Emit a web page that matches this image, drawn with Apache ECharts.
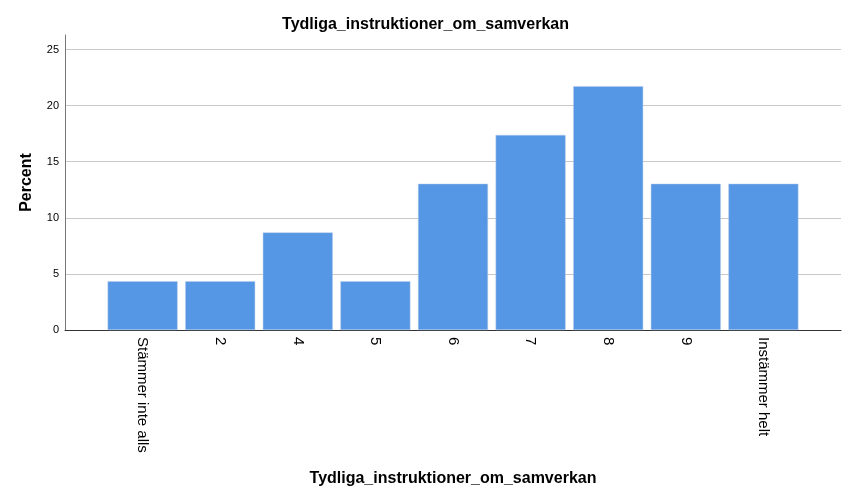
<!DOCTYPE html>
<html><head><meta charset="utf-8">
<script src="https://cdn.jsdelivr.net/npm/echarts@6/dist/echarts.min.js"></script>
<style>html,body{margin:0;padding:0;background:#fff}#c{width:851px;height:501px}</style>
</head><body><div id="c"></div>
<script>
var categories = ['Stämmer inte alls','2','4','5','6','7','8','9','Instämmer helt'];
var percentValues = [4.35, 4.35, 8.70, 4.35, 13.04, 17.39, 21.74, 13.04, 13.04];
var yTicks = [0, 5, 10, 15, 20, 25];
var titleText = 'Tydliga_instruktioner_om_samverkan';
var yName = 'Percent';

var chart = echarts.init(document.getElementById('c'), null, {renderer:'canvas'});
var font = 'Arial, "Liberation Sans", sans-serif';
chart.setOption({
  animation:false,
  title:{text:titleText,left:'center',top:12,textStyle:{fontFamily:font,fontSize:16,fontWeight:'bold',color:'#000'}},
  grid:{left:65,right:10,top:35,bottom:171,containLabel:false},
  xAxis:{type:'value',min:-1,max:categories.length,interval:1,
    name:titleText,nameLocation:'middle',nameGap:141,
    nameTextStyle:{fontFamily:font,fontSize:16,fontWeight:'bold',color:'#000'},
    axisLine:{show:true,onZero:false,lineStyle:{color:'#333',width:1}},
    axisTick:{show:false},splitLine:{show:false},
    axisLabel:{rotate:-90,margin:7,fontFamily:font,fontSize:15,color:'#000',
      showMinLabel:true,showMaxLabel:true,
      formatter:function(v){var i=Math.round(v);return (i>=0&&i<categories.length)?categories[i]:'';}}
  },
  yAxis:{type:'value',min:0,max:26.3,interval:5,
    name:yName,nameLocation:'middle',nameGap:30,
    nameTextStyle:{fontFamily:font,fontSize:16,fontWeight:'bold',color:'#000'},
    axisLine:{show:true,onZero:false,lineStyle:{color:'#777',width:1}},
    axisTick:{show:false},
    splitLine:{show:true,showMaxLine:false,lineStyle:{color:'#c8c8c8',width:1}},
    axisLabel:{margin:6,fontFamily:font,fontSize:11,color:'#000',
      formatter:function(v){return yTicks.indexOf(v)>=0?String(v):'';}}
  },
  series:[{type:'bar',barWidth:70,
    data:percentValues.map(function(v,i){return [i,v];}),
    itemStyle:{color:'#5596e5',borderColor:'#b9cde6',borderWidth:0.5}
  }]
});
</script></body></html>
